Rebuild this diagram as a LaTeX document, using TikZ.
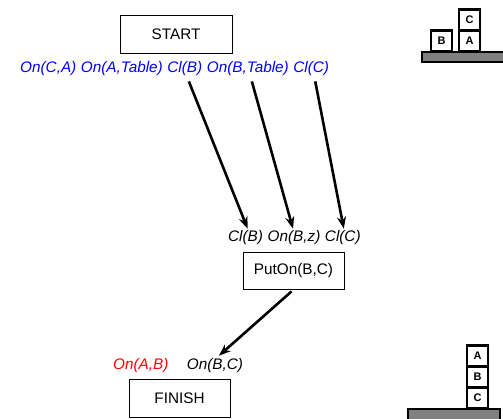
\documentclass[tikz,border=0pt]{standalone}
\usepackage{fontspec}
\setmainfont{Liberation Sans}
\usetikzlibrary{positioning,arrows.meta}
\begin{document}
\begin{tikzpicture}[x=1pt,y=-1pt,node distance=4.2pt,
  op node/.style={draw,line width=0.9pt,inner sep=0,font=\fontsize{15.3}{18}\selectfont},
  cond/.style={inner sep=0,font=\fontsize{15.3}{18}\selectfont\itshape},
  block/.style={draw,line width=2.8pt,fill=white,outer sep=0,inner sep=0,minimum size=21pt,font=\fontsize{11}{12}\selectfont\bfseries},
  tablebar/.style={draw,line width=1.4pt,fill=gray},
  link/.style={line width=2.6pt,-{Stealth[length=12pt,width=9pt]}}]
  \useasboundingbox (0,0) rectangle (503,418);

  \node[op node,minimum width=112pt,minimum height=38pt] (start) at (176,34) {START};
  \node[cond,blue,anchor=base west] (s1) at (20,72) {On(C,A)};
  \node[cond,blue,base right=of s1] (s2) {On(A,Table)};
  \node[cond,blue,base right=of s2] (s3) {Cl(B)};
  \node[cond,blue,base right=of s3] (s4) {On(B,Table)};
  \node[cond,blue,base right=of s4] (s5) {Cl(C)};

  \node[op node,minimum width=101pt,minimum height=37pt] (puton) at (293.5,270.5) {PutOn(B,C)};
  \node[cond,anchor=base west] (p1) at (228,241) {Cl(B)};
  \node[cond,base right=of p1] (p2) {On(B,z)};
  \node[cond,base right=of p2] (p3) {Cl(C)};

  \node[op node,minimum width=101pt,minimum height=38pt] (finish) at (179.5,398) {FINISH};
  \node[cond,red,anchor=base west] (f1) at (113,369) {On(A,B)};
  \node[cond,base right=18pt of f1] (f2) {On(B,C)};

  \draw[link] ([shift={(4,6)}]s3.south) -- ([shift={(2,-1)}]p1.north);
  \draw[link] ([shift={(4,6)}]s4.south) -- ([shift={(-1,-1)}]p2.north);
  \draw[link] ([shift={(4,6)}]s5.south) -- ([shift={(1,-1)}]p3.north);
  \draw[link] ([shift={(-2,2)}]puton.south) -- ([shift={(4,-2)}]f2.north);

  % initial state
  \draw[tablebar] (422,52) rectangle (510,62);
  \node[block] (b) at (441.5,41) {B};
  \node[block] (a) at (469.5,41) {A};
  \node[block,above=0pt of a] (c) {C};

  % goal state
  \draw[tablebar] (408,409) rectangle (500,425);
  \node[block] (gc) at (477.5,398) {C};
  \node[block,above=0pt of gc] (gb) {B};
  \node[block,above=0pt of gb] (ga) {A};
\end{tikzpicture}
\end{document}
